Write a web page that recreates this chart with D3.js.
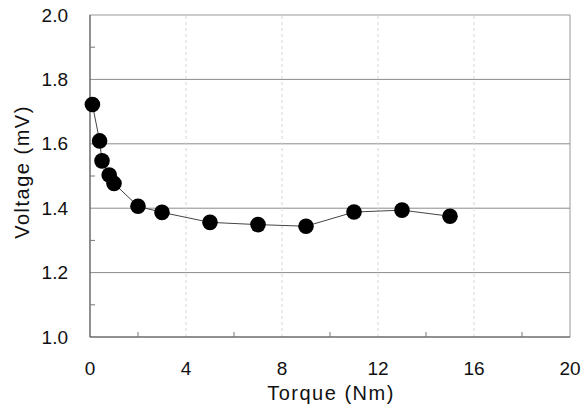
<!DOCTYPE html>
<meta charset="UTF-8">
<style>
body { margin: 0; background: #fff; }
.tick-label { font: 19px "Liberation Sans", Arial, sans-serif; fill: #111; }
.axis-title { font: 20px "Liberation Sans", Arial, sans-serif; fill: #111; letter-spacing: 1.5px; }
</style>
<body>
<script src="https://cdnjs.cloudflare.com/ajax/libs/d3/7.8.5/d3.min.js"></script>
<script>
// torque (Nm) and voltage (mV)
const torque  = [0.1, 0.4, 0.5, 0.8, 1, 2, 3, 5, 7, 9, 11, 13, 15];
const voltage = [1.722, 1.609, 1.547, 1.503, 1.477, 1.406, 1.387, 1.356, 1.349, 1.344, 1.388, 1.394, 1.375];
const xTicks = [0, 4, 8, 12, 16, 20];
const yTicks = [1.0, 1.2, 1.4, 1.6, 1.8, 2.0];
const xMinor = [2, 6, 10, 14, 18];
const yMinor = [1.1, 1.3, 1.5, 1.7, 1.9];

const width = 583, height = 406;
const margin = {top: 15, right: 13, bottom: 69, left: 90};

const svg = d3.select("body").append("svg")
    .attr("width", width)
    .attr("height", height);

const x = d3.scaleLinear().domain([0, 20]).range([margin.left, width - margin.right]);
const y = d3.scaleLinear().domain([1.0, 2.0]).range([height - margin.bottom, margin.top]);

// horizontal grid (solid)
svg.append("g").selectAll("line")
  .data(yTicks.slice(1, -1))
  .join("line")
    .attr("x1", x(0)).attr("x2", x(20))
    .attr("y1", d => y(d)).attr("y2", d => y(d))
    .attr("stroke", "#8a8a8a").attr("stroke-width", 1);

// vertical grid (faint dashed)
svg.append("g").selectAll("line")
  .data(xTicks.slice(1, -1))
  .join("line")
    .attr("x1", d => x(d)).attr("x2", d => x(d))
    .attr("y1", y(1.0)).attr("y2", y(2.0))
    .attr("stroke", "#d4d4d4").attr("stroke-width", 1)
    .attr("stroke-dasharray", "3,3");

// frame
svg.append("rect")
    .attr("x", x(0)).attr("y", y(2.0))
    .attr("width", x(20) - x(0)).attr("height", y(1.0) - y(2.0))
    .attr("fill", "none").attr("stroke", "#999");
svg.append("path")
    .attr("d", `M${x(0)},${y(2.0)}V${y(1.0)}H${x(20)}`)
    .attr("fill", "none").attr("stroke", "#555");

// minor ticks, pointing inward
svg.append("g").selectAll("line")
  .data(yMinor)
  .join("line")
    .attr("x1", x(0)).attr("x2", x(0) + 5)
    .attr("y1", d => y(d)).attr("y2", d => y(d))
    .attr("stroke", "#777");
svg.append("g").selectAll("line")
  .data(xMinor)
  .join("line")
    .attr("x1", d => x(d)).attr("x2", d => x(d))
    .attr("y1", y(1.0)).attr("y2", y(1.0) - 5)
    .attr("stroke", "#777");

// tick labels
svg.append("g").selectAll("text")
  .data(yTicks)
  .join("text")
    .attr("class", "tick-label")
    .attr("x", x(0) - 22)
    .attr("y", d => y(d))
    .attr("dy", "0.35em")
    .attr("text-anchor", "end")
    .text(d => d.toFixed(1));
svg.append("g").selectAll("text")
  .data(xTicks)
  .join("text")
    .attr("class", "tick-label")
    .attr("x", d => x(d))
    .attr("y", y(1.0) + 31)
    .attr("dy", "0.35em")
    .attr("text-anchor", "middle")
    .text(d => d);

// axis titles
svg.append("text")
    .attr("class", "axis-title")
    .attr("x", 331).attr("y", 393)
    .attr("dy", "0.35em")
    .attr("text-anchor", "middle")
    .text("Torque (Nm)");
svg.append("text")
    .attr("class", "axis-title")
    .attr("transform", `translate(22,172) rotate(-90)`)
    .attr("dy", "0.35em")
    .attr("text-anchor", "middle")
    .text("Voltage (mV)");

// data line and markers
const pts = torque.map((t, i) => [t, voltage[i]]);
svg.append("path")
    .datum(pts)
    .attr("fill", "none")
    .attr("stroke", "#444")
    .attr("stroke-width", 1)
    .attr("d", d3.line().x(d => x(d[0])).y(d => y(d[1])));

svg.append("g").selectAll("circle")
  .data(pts)
  .join("circle")
    .attr("cx", d => x(d[0]))
    .attr("cy", d => y(d[1]))
    .attr("r", 7.8)
    .attr("fill", "#000");
</script>
</body>
